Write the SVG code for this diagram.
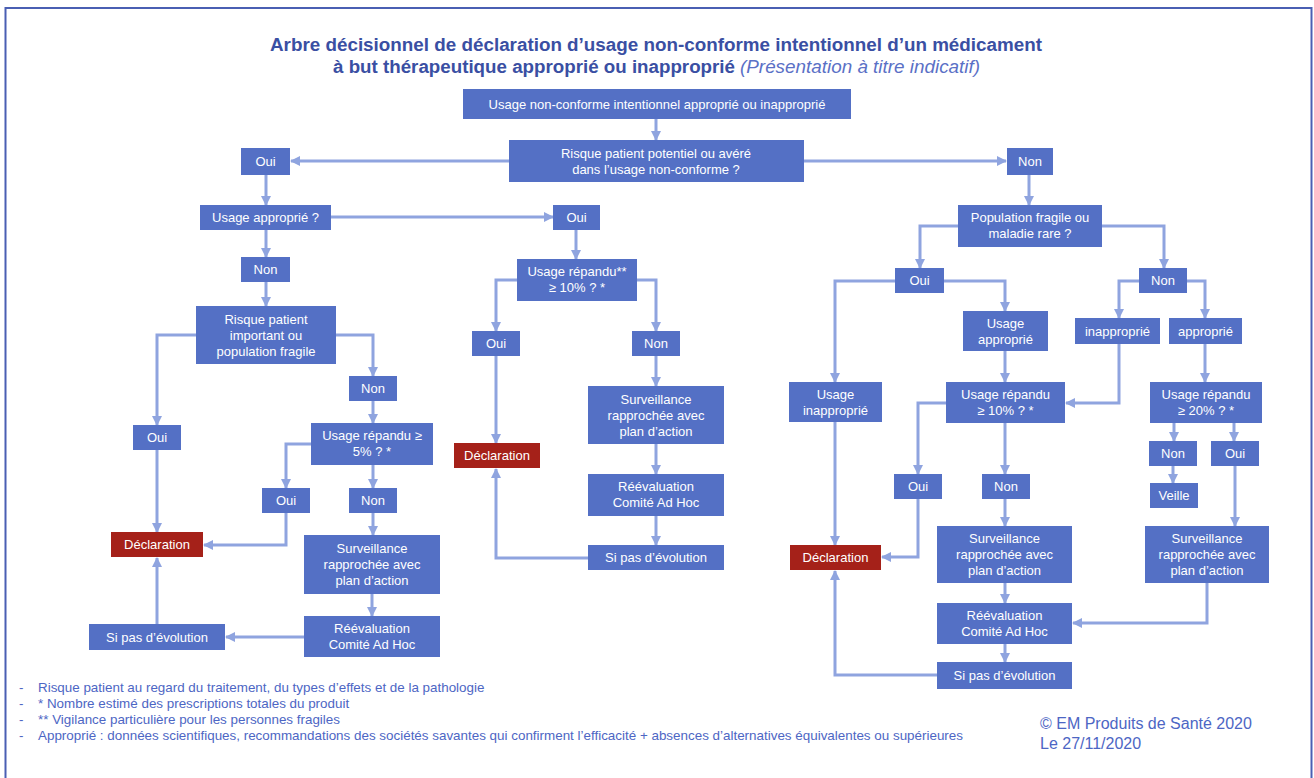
<svg xmlns="http://www.w3.org/2000/svg" width="1314" height="778" viewBox="0 0 1314 778">
<defs>
<marker id="ah" markerUnits="userSpaceOnUse" markerWidth="10" markerHeight="10" viewBox="0 0 10 10" refX="9" refY="5" orient="auto">
<path d="M0,0 L10,5 L0,10 z" fill="#8fa4df"/>
</marker>
<style>
.n{fill:#5470c5}
.r{fill:#a52119}
.t{font-family:"Liberation Sans",Arial,sans-serif;font-size:13px;fill:#ffffff;text-anchor:middle}
.c{stroke:#8fa4df;stroke-width:3;fill:none;marker-end:url(#ah)}
.title{font-family:"Liberation Sans",Arial,sans-serif;font-size:18px;font-weight:bold;fill:#3a4fa3}
.ital{font-family:"Liberation Sans",Arial,sans-serif;font-size:18px;font-style:italic;fill:#5a70c6}
.fn{font-family:"Liberation Sans",Arial,sans-serif;font-size:13.4px;fill:#4d66c4}
.cp{font-family:"Liberation Sans",Arial,sans-serif;font-size:16px;fill:#4d66c4}
</style>
</defs>
<rect x="0" y="0" width="1314" height="778" fill="#ffffff"/>
<rect x="5.5" y="8" width="1306" height="800" fill="none" stroke="#4a5fb3" stroke-width="2"/>

<text class="title" x="270" y="51" textLength="772" lengthAdjust="spacingAndGlyphs">Arbre décisionnel de déclaration d’usage non-conforme intentionnel d’un médicament</text>
<text class="title" x="333" y="73" textLength="402" lengthAdjust="spacingAndGlyphs">à but thérapeutique approprié ou inapproprié</text>
<text class="ital" x="740" y="73" textLength="240" lengthAdjust="spacingAndGlyphs">(Présentation à titre indicatif)</text>

<g id="connectors">
<path class="c" d="M656,119 V140"/>
<path class="c" d="M509,161 H291"/>
<path class="c" d="M804,161 H1006"/>
<path class="c" d="M266,175 V205"/>
<path class="c" d="M331,217 H553"/>
<path class="c" d="M266,230 V257"/>
<path class="c" d="M266,282 V306"/>
<path class="c" d="M196,335 H157 V425"/>
<path class="c" d="M336,335 H373 V376"/>
<path class="c" d="M373,401 V423"/>
<path class="c" d="M311,444 H286 V488"/>
<path class="c" d="M373,465 V488"/>
<path class="c" d="M157,450 V532"/>
<path class="c" d="M286,513 V545 H204"/>
<path class="c" d="M373,513 V535"/>
<path class="c" d="M372,594 V616"/>
<path class="c" d="M304,637 H226"/>
<path class="c" d="M157,624 V558"/>

<path class="c" d="M576,230 V259"/>
<path class="c" d="M517,280 H496 V331"/>
<path class="c" d="M637,280 H656 V331"/>
<path class="c" d="M496,356 V443"/>
<path class="c" d="M656,356 V386"/>
<path class="c" d="M656,444 V474"/>
<path class="c" d="M656,516 V545"/>
<path class="c" d="M588,558 H496 V469"/>

<path class="c" d="M1029,175 V205"/>
<path class="c" d="M958,226 H920 V268"/>
<path class="c" d="M1102,226 H1164 V268"/>
<path class="c" d="M895,281 H835 V382"/>
<path class="c" d="M944,281 H1005 V311"/>
<path class="c" d="M1005,351 V382"/>
<path class="c" d="M1139,281 H1119 V318"/>
<path class="c" d="M1187,281 H1205 V318"/>
<path class="c" d="M1119,344 V403 H1066"/>
<path class="c" d="M1205,344 V382"/>
<path class="c" d="M1174,423 V441"/>
<path class="c" d="M1234,423 V441"/>
<path class="c" d="M1173,466 V483"/>
<path class="c" d="M1235,466 V526"/>
<path class="c" d="M835,421 V545"/>
<path class="c" d="M946,403 H918 V474"/>
<path class="c" d="M1005,423 V474"/>
<path class="c" d="M918,499 V557 H882"/>
<path class="c" d="M1005,499 V526"/>
<path class="c" d="M1005,583 V603"/>
<path class="c" d="M1207,583 V623 H1073"/>
<path class="c" d="M1005,644 V662"/>
<path class="c" d="M937,675 H835 V571"/>
</g>

<g id="n1"><rect class="n" x="463" y="89" width="388" height="30"/><text class="t" x="657" y="108.5">Usage non-conforme intentionnel approprié ou inapproprié</text></g>
<g id="n2"><rect class="n" x="509" y="140" width="295" height="42"/><text class="t" x="656" y="157.5">Risque patient potentiel ou avéré</text><text class="t" x="656" y="173.5">dans l’usage non-conforme ?</text></g>
<g id="n3"><rect class="n" x="241" y="148" width="49" height="27"/><text class="t" x="265.5" y="166">Oui</text></g>
<g id="n4"><rect class="n" x="1007" y="148" width="46" height="27"/><text class="t" x="1030" y="166">Non</text></g>
<g id="n5"><rect class="n" x="200" y="205" width="131" height="25"/><text class="t" x="265.5" y="222">Usage approprié ?</text></g>
<g id="n6"><rect class="n" x="553" y="205" width="47" height="25"/><text class="t" x="576.5" y="222">Oui</text></g>
<g id="n7"><rect class="n" x="958" y="205" width="144" height="42"/><text class="t" x="1030" y="222">Population fragile ou</text><text class="t" x="1030" y="238">maladie rare ?</text></g>
<g id="n8"><rect class="n" x="241" y="257" width="49" height="25"/><text class="t" x="265.5" y="274">Non</text></g>
<g id="n9"><rect class="n" x="517" y="259" width="120" height="42"/><text class="t" x="577" y="276">Usage répandu**</text><text class="t" x="577" y="292">≥ 10% ? *</text></g>
<g id="n10"><rect class="n" x="895" y="268" width="49" height="25"/><text class="t" x="919.5" y="285">Oui</text></g>
<g id="n11"><rect class="n" x="1139" y="268" width="48" height="25"/><text class="t" x="1163" y="285">Non</text></g>
<g id="n12"><rect class="n" x="196" y="306" width="140" height="58"/><text class="t" x="266" y="323.5">Risque patient</text><text class="t" x="266" y="339.5">important ou</text><text class="t" x="266" y="355.5">population fragile</text></g>
<g id="n13"><rect class="n" x="963" y="311" width="85" height="40"/><text class="t" x="1005.5" y="327.5">Usage</text><text class="t" x="1005.5" y="343.5">approprié</text></g>
<g id="n14"><rect class="n" x="1075" y="318" width="85" height="26"/><text class="t" x="1117.5" y="335.5">inapproprié</text></g>
<g id="n15"><rect class="n" x="1169" y="318" width="73" height="26"/><text class="t" x="1205.5" y="335.5">approprié</text></g>
<g id="n16"><rect class="n" x="472" y="331" width="48" height="25"/><text class="t" x="496" y="348">Oui</text></g>
<g id="n17"><rect class="n" x="632" y="331" width="48" height="25"/><text class="t" x="656" y="348">Non</text></g>
<g id="n18"><rect class="n" x="349" y="376" width="48" height="25"/><text class="t" x="373" y="393">Non</text></g>
<g id="n19"><rect class="n" x="789" y="382" width="93" height="40"/><text class="t" x="835.5" y="398.5">Usage</text><text class="t" x="835.5" y="414.5">inapproprié</text></g>
<g id="n20"><rect class="n" x="946" y="382" width="119" height="41"/><text class="t" x="1005.5" y="398.5">Usage répandu</text><text class="t" x="1005.5" y="414.5">≥ 10% ? *</text></g>
<g id="n21"><rect class="n" x="1150" y="382" width="112" height="41"/><text class="t" x="1206" y="398.5">Usage répandu</text><text class="t" x="1206" y="414.5">≥ 20% ? *</text></g>
<g id="n22"><rect class="n" x="588" y="386" width="136" height="58"/><text class="t" x="656" y="403.5">Surveillance</text><text class="t" x="656" y="419.5">rapprochée avec</text><text class="t" x="656" y="435.5">plan d’action</text></g>
<g id="n23"><rect class="n" x="133" y="425" width="48" height="25"/><text class="t" x="157" y="442">Oui</text></g>
<g id="n24"><rect class="n" x="311" y="423" width="122" height="42"/><text class="t" x="372" y="440">Usage répandu ≥</text><text class="t" x="372" y="456">5% ? *</text></g>
<g id="n25"><rect class="n" x="1149" y="441" width="48" height="25"/><text class="t" x="1173" y="458">Non</text></g>
<g id="n26"><rect class="n" x="1211" y="441" width="48" height="25"/><text class="t" x="1235" y="458">Oui</text></g>
<g id="n27"><rect class="r" x="454" y="443" width="86" height="25"/><text class="t" x="497" y="460">Déclaration</text></g>
<g id="n28"><rect class="n" x="1150" y="483" width="48" height="25"/><text class="t" x="1174" y="500">Veille</text></g>
<g id="n29"><rect class="n" x="588" y="474" width="136" height="42"/><text class="t" x="656" y="491">Réévaluation</text><text class="t" x="656" y="507">Comité Ad Hoc</text></g>
<g id="n30"><rect class="n" x="894" y="474" width="48" height="25"/><text class="t" x="918" y="491">Oui</text></g>
<g id="n31"><rect class="n" x="982" y="474" width="48" height="25"/><text class="t" x="1006" y="491">Non</text></g>
<g id="n32"><rect class="n" x="262" y="488" width="48" height="25"/><text class="t" x="286" y="505">Oui</text></g>
<g id="n33"><rect class="n" x="349" y="488" width="48" height="25"/><text class="t" x="373" y="505">Non</text></g>
<g id="n34"><rect class="n" x="937" y="526" width="135" height="57"/><text class="t" x="1004.5" y="543">Surveillance</text><text class="t" x="1004.5" y="559">rapprochée avec</text><text class="t" x="1004.5" y="575">plan d’action</text></g>
<g id="n35"><rect class="n" x="1145" y="526" width="124" height="57"/><text class="t" x="1207" y="543">Surveillance</text><text class="t" x="1207" y="559">rapprochée avec</text><text class="t" x="1207" y="575">plan d’action</text></g>
<g id="n36"><rect class="r" x="111" y="532" width="92" height="25"/><text class="t" x="157" y="549">Déclaration</text></g>
<g id="n37"><rect class="n" x="304" y="535" width="136" height="59"/><text class="t" x="372" y="553">Surveillance</text><text class="t" x="372" y="569">rapprochée avec</text><text class="t" x="372" y="585">plan d’action</text></g>
<g id="n38"><rect class="n" x="588" y="545" width="136" height="25"/><text class="t" x="656" y="562">Si pas d’évolution</text></g>
<g id="n39"><rect class="r" x="790" y="545" width="91" height="25"/><text class="t" x="835.5" y="562">Déclaration</text></g>
<g id="n40"><rect class="n" x="937" y="603" width="135" height="41"/><text class="t" x="1004.5" y="619.5">Réévaluation</text><text class="t" x="1004.5" y="635.5">Comité Ad Hoc</text></g>
<g id="n41"><rect class="n" x="304" y="616" width="136" height="41"/><text class="t" x="372" y="632.5">Réévaluation</text><text class="t" x="372" y="648.5">Comité Ad Hoc</text></g>
<g id="n42"><rect class="n" x="89" y="624" width="136" height="26"/><text class="t" x="157" y="641.5">Si pas d’évolution</text></g>
<g id="n43"><rect class="n" x="937" y="662" width="135" height="27"/><text class="t" x="1004.5" y="680">Si pas d’évolution</text></g>

<g id="notes">
<text class="fn" x="19" y="692">-</text><text class="fn" x="38" y="692">Risque patient au regard du traitement, du types d’effets et de la pathologie</text>
<text class="fn" x="19" y="708">-</text><text class="fn" x="38" y="708">* Nombre estimé des prescriptions totales du produit</text>
<text class="fn" x="19" y="724">-</text><text class="fn" x="38" y="724">** Vigilance particulière pour les personnes fragiles</text>
<text class="fn" x="19" y="740">-</text><text class="fn" x="38" y="740" textLength="925" lengthAdjust="spacingAndGlyphs">Approprié : données scientifiques, recommandations des sociétés savantes qui confirment l’efficacité + absences d’alternatives équivalentes ou supérieures</text>
<text class="cp" x="1040" y="729">© EM Produits de Santé 2020</text>
<text class="cp" x="1040" y="749">Le 27/11/2020</text>
</g>
</svg>
